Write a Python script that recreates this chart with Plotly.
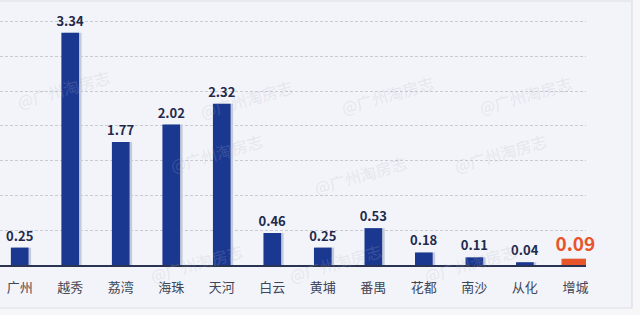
import plotly.graph_objects as go

districts = ["广州", "越秀", "荔湾", "海珠", "天河", "白云", "黄埔", "番禺", "花都", "南沙", "从化", "增城"]
values = [0.25, 3.34, 1.77, 2.02, 2.32, 0.46, 0.25, 0.53, 0.18, 0.11, 0.04, 0.09]
highlight = "增城"

NAVY = "#1b3891"
ORANGE = "#e8552b"
FONT = "Noto Sans CJK SC"

W, H = 640, 315
ML, MR, MT, MB = 0, 54, 0, 50
PW, PH = W - ML - MR, H - MT - MB

def px(x):
    return (x - ML) / PW

def py(y):
    return 1 - (y - MT) / PH

bar_colors = [ORANGE if d == highlight else NAVY for d in districts]
bar_widths = [0.55 if d == highlight else 0.35 for d in districts]
text_colors = [ORANGE if d == highlight else "#1f2a4d" for d in districts]
text_sizes = [19 if d == highlight else 13 for d in districts]

fig = go.Figure()

# soft shadow behind each bar
fig.add_trace(go.Bar(
    x=districts, y=values,
    width=bar_widths,
    offset=[-w / 2 + 0.05 for w in bar_widths],
    marker=dict(color="#c4cadb", line=dict(width=0)),
    hoverinfo="skip", showlegend=False,
))

fig.add_trace(go.Bar(
    x=districts, y=values,
    width=bar_widths,
    marker=dict(color=bar_colors, line=dict(width=0)),
    texttemplate="<b>%{y:.2f}</b>",
    textposition="outside",
    constraintext="none",
    textfont=dict(family=FONT, size=text_sizes, color=text_colors),
    outsidetextfont=dict(family=FONT, size=text_sizes, color=text_colors),
    cliponaxis=False,
    showlegend=False,
))

# card background
shapes = [dict(
    type="rect", xref="paper", yref="paper", layer="below",
    x0=px(-20), x1=px(632), y0=py(308), y1=py(1),
    fillcolor="#f3f4f9", line=dict(color="#dcdde3", width=1.2),
)]

# watermarks
marks = [(12, 62), (195, 72), (387, 68), (577, 68),
         (165, 180), (360, 175), (552, 180),
         (145, 290), (335, 290), (522, 290)]
annotations = [dict(
    text="@广州淘房志", xref="paper", yref="paper", x=px(x), y=py(y),
    showarrow=False, textangle=-16,
    font=dict(family=FONT, size=16, color="rgba(170,176,192,0.22)"),
) for x, y in marks]

fig.update_layout(
    width=W, height=H,
    margin=dict(l=ML, r=MR, t=MT, b=MB),
    paper_bgcolor="#f7f7fa",
    plot_bgcolor="rgba(0,0,0,0)",
    barmode="overlay",
    shapes=shapes,
    annotations=annotations,
    xaxis=dict(
        type="category",
        range=[-0.39, 11.21],
        showline=True, linecolor="#2a3452", linewidth=1.5,
        showgrid=False,
        ticks="outside", ticklen=10, tickcolor="rgba(0,0,0,0)",
        tickfont=dict(family=FONT, size=13, color="#404657"),
    ),
    yaxis=dict(
        range=[0, 3.81], dtick=0.5,
        showticklabels=False, zeroline=False,
        showgrid=True, gridcolor="#c9cbd3", gridwidth=1, griddash="3px,2px",
    ),
)

fig.write_html("out.html")
